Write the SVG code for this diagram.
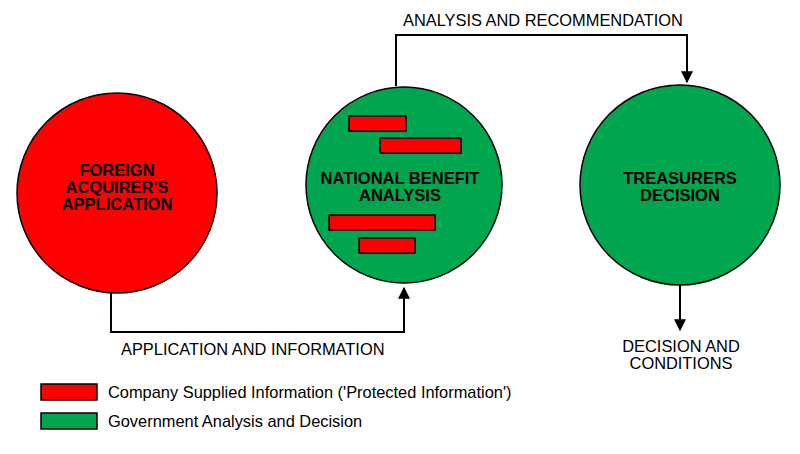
<svg xmlns="http://www.w3.org/2000/svg" width="800" height="454" viewBox="0 0 800 454">
<style>
.c{stroke:#000;stroke-width:1.5}
.r{fill:#f00}.g{fill:#00a54f}
.t{font-family:"Liberation Sans",Arial,sans-serif;font-size:16.4px;fill:#000}
.b{font-family:"Liberation Sans",Arial,sans-serif;font-size:16.5px;font-weight:bold;fill:#000;text-anchor:middle}
.l{fill:none;stroke:#000;stroke-width:2}
</style>
<defs><marker id="a" viewBox="0 0 10 10" refX="9" refY="5" markerWidth="6" markerHeight="6" orient="auto"><path d="M0,0L10,5L0,10z" fill="#000"/></marker></defs>
<rect width="800" height="454" fill="#fff"/>
<g id="connectors">
<path class="l" d="M111,288V332H404V288" marker-end="url(#a)"/>
<path class="l" d="M396,86V35H687V82" marker-end="url(#a)"/>
<path class="l" d="M680,285V330" marker-end="url(#a)"/>
</g>
<g id="foreign"><circle class="c r" cx="117" cy="193" r="100"/>
<text class="b" x="117" y="176">FOREIGN</text><text class="b" x="117" y="193">ACQUIRER'S</text><text class="b" x="117" y="210">APPLICATION</text></g>
<g id="national"><circle class="c g" cx="404" cy="185" r="98"/>
<rect class="c r" x="349" y="116" width="57" height="15"/><rect class="c r" x="380" y="138" width="81" height="15"/>
<rect class="c r" x="329" y="215" width="106" height="15"/><rect class="c r" x="359" y="238" width="56" height="15"/>
<text class="b" x="400" y="184">NATIONAL BENEFIT</text><text class="b" x="400" y="201">ANALYSIS</text></g>
<g id="treasurer"><circle class="c g" cx="680" cy="185" r="100"/>
<text class="b" x="680" y="184">TREASURERS</text><text class="b" x="680" y="201">DECISION</text></g>
<text class="t" x="403" y="26">ANALYSIS AND RECOMMENDATION</text>
<text class="t" x="121" y="355">APPLICATION AND INFORMATION</text>
<text class="t" x="681" y="352" text-anchor="middle">DECISION AND</text>
<text class="t" x="681" y="369" text-anchor="middle">CONDITIONS</text>
<g id="legend">
<rect class="c r" x="41" y="384" width="56" height="16"/><text class="t" x="108" y="398">Company Supplied Information ('Protected Information')</text>
<rect class="c g" x="41" y="413" width="56" height="16"/><text class="t" x="108" y="427">Government Analysis and Decision</text>
</g>
</svg>
